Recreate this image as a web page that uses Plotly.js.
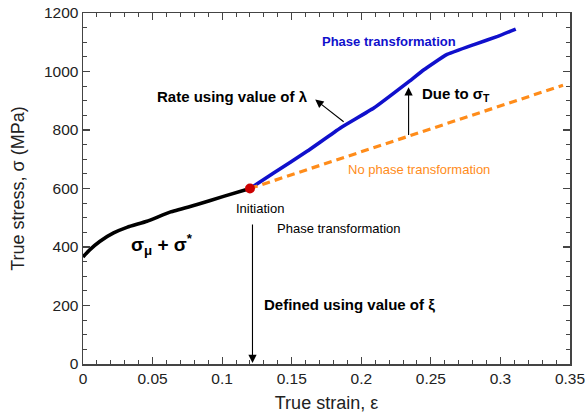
<!DOCTYPE html>
<html>
<head>
<meta charset="utf-8">
<script src="https://cdn.plot.ly/plotly-3.0.1.min.js"></script>
<style>
  html, body { margin: 0; padding: 0; background: #fff; }
  #chart { width: 585px; height: 416px; }
</style>
</head>
<body>
<div id="chart"></div>
<script>
// Flow stress before martensite initiation (sigma_mu + sigma*)
const strainBase = [0, 0.005, 0.012, 0.022, 0.032, 0.046, 0.063, 0.082, 0.101, 0.12];
const stressBase = [366, 391, 419, 448, 468, 488, 520, 545, 573, 600];

// Flow stress with phase transformation
const strainPT = [0.12, 0.137, 0.161, 0.185, 0.209, 0.233, 0.245, 0.261, 0.281, 0.298, 0.311];
const stressPT = [600, 653, 727, 807, 875, 961, 1006, 1057, 1092, 1120, 1145];

// Extrapolated flow stress without phase transformation
const strainNoPT = [0.12, 0.345];
const stressNoPT = [600, 953];

// Transformation initiation point
const strainInit = [0.12];
const stressInit = [600];

// Axis ticks
const xTickVals = [0, 0.05, 0.1, 0.15, 0.2, 0.25, 0.3, 0.35];
const xTickText = ['0', '0.05', '0.1', '0.15', '0.2', '0.25', '0.3', '0.35'];
const yTickVals = [0, 200, 400, 600, 800, 1000, 1200];
const yTickText = ['0', '200', '400', '600', '800', '1000', '1200'];

const FONT = 'Liberation Sans, Arial, sans-serif';
const AXIS = '#444';

const traces = [
  { x: strainBase, y: stressBase, mode: 'lines',
    line: { color: '#000000', width: 3.6, shape: 'spline', smoothing: 0.3 }, hoverinfo: 'skip' },
  { x: strainPT, y: stressPT, mode: 'lines',
    line: { color: '#1010cc', width: 3.6, shape: 'spline', smoothing: 0.3 }, hoverinfo: 'skip' },
  // drawn on the top/right frame axes (same ranges) so those axes carry ticks
  { x: strainNoPT, y: stressNoPT, xaxis: 'x2', yaxis: 'y2', mode: 'lines',
    line: { color: '#ff8c1a', width: 3.2, dash: '8px,5px' }, hoverinfo: 'skip' },
  { x: strainInit, y: stressInit, xaxis: 'x2', yaxis: 'y2', mode: 'markers',
    marker: { color: '#cc0000', size: 10 }, hoverinfo: 'skip' }
];

function label(x, y, text, opts) {
  return Object.assign({
    x: x, y: y, xref: 'x', yref: 'y', text: text, showarrow: false,
    font: { family: FONT, size: 13, color: '#000' }
  }, opts || {});
}

function arrow(xTail, yTail, xHead, yHead) {
  return {
    x: xHead, y: yHead, ax: xTail, ay: yTail,
    xref: 'x', yref: 'y', axref: 'x', ayref: 'y',
    text: '', showarrow: true, arrowhead: 2, arrowsize: 1.5,
    arrowwidth: 1.1, arrowcolor: '#000', standoff: 0, startstandoff: 0
  };
}

const annotations = [
  label(0.2202, 1104, '<b>Phase transformation</b>',
        { font: { family: FONT, size: 13, color: '#1010cc' } }),
  label(0.1076, 916, '<b>Rate using value of λ</b>',
        { font: { family: FONT, size: 15, color: '#000' } }),
  label(0.2423, 920, '<b>Due to σ<sub>T</sub></b>',
        { xanchor: 'left', font: { family: FONT, size: 15, color: '#000' } }),
  label(0.2416, 664, 'No phase transformation',
        { font: { family: FONT, size: 13, color: '#ff8c1a' } }),
  label(0.1274, 533, 'Initiation'),
  label(0.1841, 462, 'Phase transformation'),
  label(0.0328, 410, '<b>σ<sub>μ</sub> + σ<sup>*</sup></b>',
        { xanchor: 'left', font: { family: FONT, size: 19, color: '#000' } }),
  label(0.129, 203, '<b>Defined using value of ξ</b>',
        { xanchor: 'left', font: { family: FONT, size: 15, color: '#000' } }),
  arrow(0.1884, 824, 0.1669, 904),
  arrow(0.234, 778, 0.234, 946),
  arrow(0.1218, 482, 0.1218, 3),
  // y-axis title
  { xref: 'paper', yref: 'paper', x: -0.135, y: 0.5, xanchor: 'center', yanchor: 'middle',
    textangle: -90, showarrow: false, text: 'True stress, σ (MPa)',
    font: { family: FONT, size: 18, color: '#222' } }
];

const tickStyle = {
  showgrid: false, zeroline: false, showline: true,
  linecolor: AXIS, linewidth: 1.5,
  ticks: 'inside', ticklen: 7, tickwidth: 1.2, tickcolor: AXIS,
  tickfont: { family: FONT, size: 15.5, color: '#222' },
  ticklabeloverflow: 'allow'
};
const xMinor = { dtick: 0.01, tick0: 0, ticks: 'inside', ticklen: 4, tickcolor: AXIS, tickwidth: 1 };
const yMinor = { dtick: 50, tick0: 0, ticks: 'inside', ticklen: 4, tickcolor: AXIS, tickwidth: 1 };

const layout = {
  width: 585, height: 416,
  margin: { l: 83, r: 15, t: 13, b: 52 },
  paper_bgcolor: '#fff', plot_bgcolor: '#fff',
  showlegend: false,
  xaxis: Object.assign({}, tickStyle, {
    range: [0, 0.35], tickmode: 'array', tickvals: xTickVals, ticktext: xTickText,
    minor: xMinor,
    title: { text: 'True strain, ε', font: { family: FONT, size: 18, color: '#222' }, standoff: 10 }
  }),
  yaxis: Object.assign({}, tickStyle, {
    range: [0, 1200], tickmode: 'array', tickvals: yTickVals, ticktext: yTickText,
    minor: yMinor
  }),
  xaxis2: Object.assign({}, tickStyle, {
    overlaying: 'x', side: 'top', anchor: 'y2', range: [0, 0.35],
    tickmode: 'array', tickvals: xTickVals, showticklabels: false, minor: xMinor
  }),
  yaxis2: Object.assign({}, tickStyle, {
    overlaying: 'y', side: 'right', anchor: 'x2', range: [0, 1200],
    tickmode: 'array', tickvals: yTickVals, showticklabels: false, minor: yMinor
  }),
  annotations: annotations
};

Plotly.newPlot('chart', traces, layout, { staticPlot: true, displayModeBar: false });
</script>
</body>
</html>
